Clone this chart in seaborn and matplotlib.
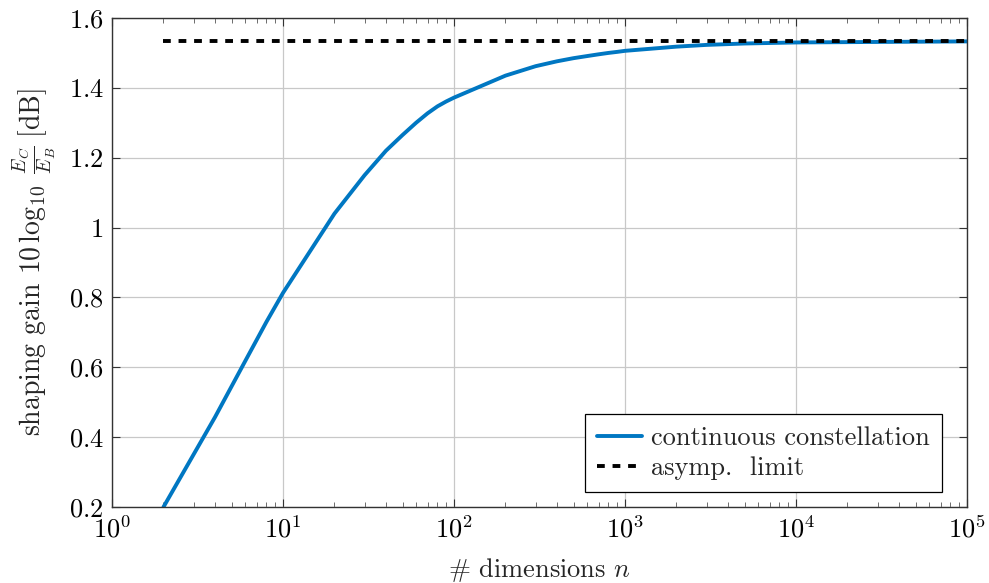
import matplotlib
matplotlib.use("Agg")
import matplotlib.pyplot as plt
import matplotlib.ticker as mticker
import seaborn as sns
import pandas as pd
import numpy as np

# data
n_dims = [2, 4, 6, 8, 10, 20, 30, 40, 50, 60, 70, 80, 90, 100,
          200, 300, 400, 500, 600, 700, 800, 900, 1000,
          2000, 3000, 5000, 10000, 100000]
gain_db = [0.20, 0.457, 0.617, 0.730, 0.813, 1.040, 1.150, 1.220, 1.265, 1.300,
           1.327, 1.347, 1.361, 1.372,
           1.435, 1.462, 1.476, 1.485, 1.491, 1.496, 1.500, 1.503, 1.506,
           1.518, 1.523, 1.527, 1.530, 1.533]
limit_x = [2, 100000]
limit_y = [1.533, 1.533]

sns.set_theme(style="whitegrid")
plt.rcParams["mathtext.fontset"] = "cm"
plt.rcParams["font.family"] = ["cmr10", "DejaVu Serif"]
plt.rcParams["axes.formatter.use_mathtext"] = True

fig = plt.figure(figsize=(9.89, 5.83), dpi=100)
ax = fig.add_axes([112/989, 1-507/583, (967-112)/989, (507-18)/583])

df = pd.DataFrame({"n": n_dims, "g": gain_db})
sns.lineplot(data=df, x="n", y="g", ax=ax, color="#0077C2", linewidth=2.8,
             label="continuous constellation")
lim = pd.DataFrame({"n": limit_x, "g": limit_y})
sns.lineplot(data=lim, x="n", y="g", ax=ax, color="black", linewidth=2.8,
             dashes=False, label="asymp.  limit")
ax.lines[-1].set_dashes((2.0, 2.0))

ax.set_xscale("log")
ax.set_xlim(1, 1e5)
ax.set_ylim(0.2, 1.6)
ax.set_yticks([0.2, 0.4, 0.6, 0.8, 1.0, 1.2, 1.4, 1.6])
ax.yaxis.set_major_formatter(mticker.FuncFormatter(
    lambda v, p: r"$%s$" % ("1" if abs(v-1) < 1e-9 else "%.1f" % v)))
ax.xaxis.set_major_locator(mticker.LogLocator(base=10, numticks=10))
ax.xaxis.set_minor_locator(mticker.LogLocator(base=10, subs=np.arange(2, 10), numticks=20))
ax.xaxis.set_major_formatter(mticker.FuncFormatter(lambda v, p: r"$10^{%d}$" % round(np.log10(v))))

ax.grid(True, which="major", color="#c8c8c8", linewidth=0.9)
ax.grid(False, which="minor")
ax.set_facecolor("white")
for s in ax.spines.values():
    s.set_color("#333333")
    s.set_linewidth(1.0)
ax.tick_params(axis="both", which="major", direction="in", length=6, width=0.8,
               colors="#333333", labelcolor="black", labelsize=19,
               top=True, right=True, bottom=True, left=True, pad=6)
ax.tick_params(axis="x", which="minor", direction="in", length=3.5, width=0.6,
               colors="#555555", top=True, bottom=True)

ax.set_xlabel(r"# dimensions $n$", fontsize=19, labelpad=10)
ax.set_ylabel(r"shaping gain $10\,\log_{10}\;\frac{E_C}{E_B}\;$[dB]",
              fontsize=20, labelpad=8)

leg = ax.legend(loc="lower right", fontsize=19, frameon=True, fancybox=False,
                edgecolor="black", framealpha=1, borderpad=0.45, handlelength=1.7,
                handletextpad=0.35, labelspacing=0.25, borderaxespad=0,
                bbox_to_anchor=((942-112)/855, (507-492)/489))
leg.get_frame().set_linewidth(0.9)

fig.savefig("out.png", dpi=100, facecolor="white")
